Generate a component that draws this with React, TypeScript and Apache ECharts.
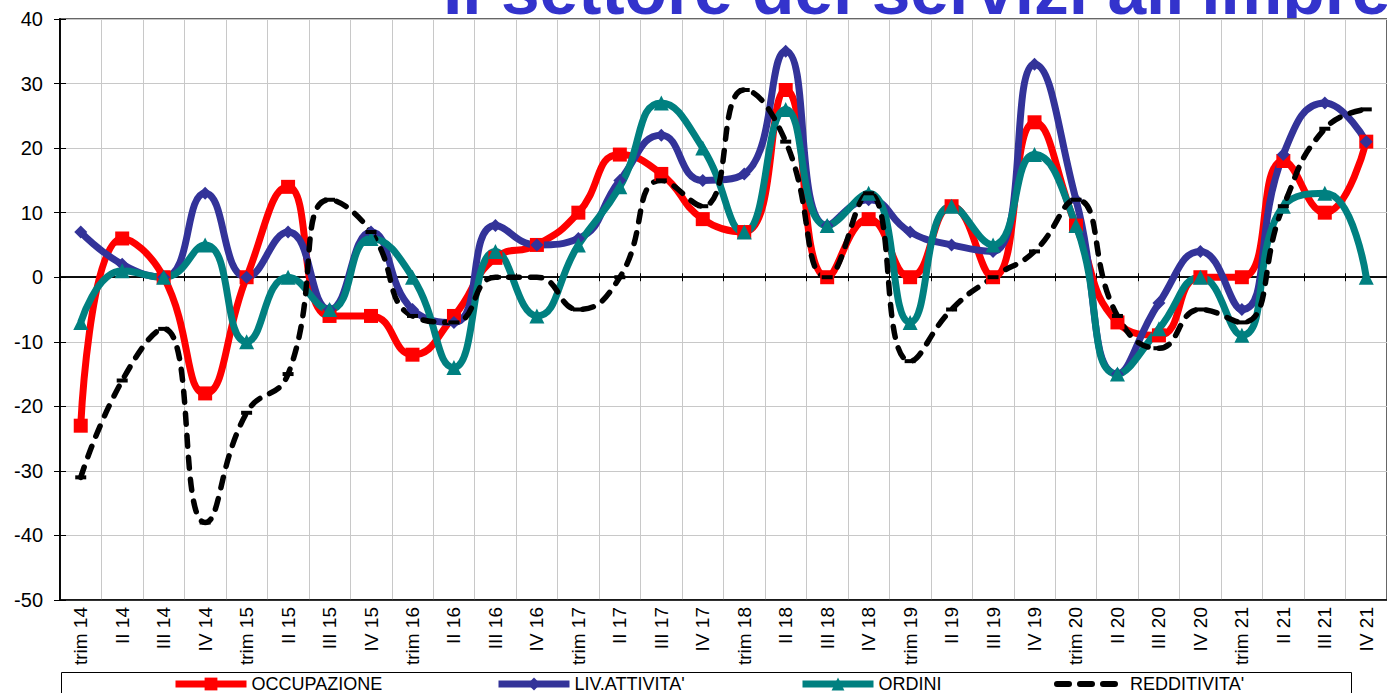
import React, { useEffect, useRef } from 'react';
import * as echarts from 'echarts';

const categories = [
  'trim 14', 'II 14', 'III 14', 'IV 14',
  'trim 15', 'II 15', 'III 15', 'IV 15',
  'trim 16', 'II 16', 'III 16', 'IV 16',
  'trim 17', 'II 17', 'III 17', 'IV 17',
  'trim 18', 'II 18', 'III 18', 'IV 18',
  'trim 19', 'II 19', 'III 19', 'IV 19',
  'trim 20', 'II 20', 'III 20', 'IV 20',
  'trim 21', 'II 21', 'III 21', 'IV 21',
];

const occupazione = [-23, 6, 0, -18, 0, 14, -6, -6, -12, -6, 3, 5, 10, 19, 16, 9, 7, 29, 0, 9, 0, 11, 0, 24, 8, -7, -9, 0, 0, 18, 10, 21];
const livAttivita = [7, 2, 0, 13, 0, 7, -5, 7, -5, -7, 8, 5, 6, 15, 22, 15, 16, 35, 8, 12, 7, 5, 4, 33, 12, -15, -4, 4, -5, 19, 27, 21];
const ordini = [-7, 1, 0, 5, -10, 0, -5, 6, 0, -14, 4, -6, 5, 14, 27, 20, 7, 26, 8, 13, -7, 11, 5, 19, 8, -15, -8, 0, -9, 11, 13, 0];
const redditivita = [-31, -16, -8, -38, -21, -15, 12, 7, -6, -7, 0, 0, -5, 0, 15, 11, 29, 21, 0, 13, -13, -5, 0, 4, 12, -6, -11, -5, -7, 11, 23, 26];

const seriesNames = ['OCCUPAZIONE', "LIV.ATTIVITA'", 'ORDINI', "REDDITIVITA'"];
const titleText = "Il settore dei servizi all'impresa";

const FONT = "'Liberation Sans', Arial, sans-serif";

// three rounded dashes for the dashed-line legend key
const dashIcon =
  'path://M3,0H15A3,3 0 0 1 15,6H3A3,3 0 0 1 3,0Z' +
  'M26,0H38A3,3 0 0 1 38,6H26A3,3 0 0 1 26,0Z' +
  'M49,0H61A3,3 0 0 1 61,6H49A3,3 0 0 1 49,0Z';

export default function App() {
  const ref = useRef<HTMLDivElement>(null);

  useEffect(() => {
    const chart = echarts.init(ref.current!, null, { renderer: 'svg' });
    const gridRect = { left: 60, top: 19, right: -10, bottom: 93 };
    const legendBase = {
      top: 675,
      padding: 0,
      itemWidth: 71,
      itemHeight: 16,
      itemGap: 0,
      lineStyle: { width: 7 },
      textStyle: { fontSize: 18, color: '#000', fontFamily: FONT },
    };
    const smooth = 0.5;
    chart.setOption({
      animation: false,
      title: {
        text: titleText,
        left: 443,
        top: -45,
        padding: 0,
        z: 0,
        textStyle: { fontSize: 69.5, fontWeight: 'bold', color: '#3333CC', fontFamily: FONT },
      },
      grid: [
        { ...gridRect, show: true, backgroundColor: '#fff', borderColor: '#666', borderWidth: 2, z: 1 },
        { ...gridRect, show: false },
      ],
      xAxis: [
        {
          type: 'category', data: categories, gridIndex: 0, position: 'bottom', boundaryGap: true, z: 2,
          axisLine: { onZero: false, lineStyle: { color: '#000', width: 1.5 } },
          axisTick: { show: false },
          axisLabel: { rotate: 90, fontSize: 19, color: '#000', fontFamily: FONT, margin: 7, interval: 0 },
          splitLine: { show: true, interval: 0, lineStyle: { color: '#c8c8c8', width: 1 } },
        },
        {
          type: 'category', data: categories, gridIndex: 0, position: 'top', boundaryGap: true, z: 3,
          axisLine: { onZero: true, lineStyle: { color: '#000', width: 1.5 } },
          axisTick: { show: true, length: 4, interval: 0, lineStyle: { color: '#000' } },
          axisLabel: { show: false },
          splitLine: { show: false },
        },
        {
          type: 'category', data: categories, gridIndex: 1, position: 'bottom', boundaryGap: true, z: 3,
          axisLine: { onZero: true, lineStyle: { color: '#000', width: 1.5 } },
          axisTick: { show: true, length: 4, interval: 0, lineStyle: { color: '#000' } },
          axisLabel: { show: false },
          splitLine: { show: false },
        },
      ],
      yAxis: [
        {
          type: 'value', gridIndex: 0, min: -50, max: 40, interval: 10, position: 'left', z: 2,
          axisLine: { show: true, onZero: false, lineStyle: { color: '#000', width: 1.5 } },
          axisTick: { show: true, length: 6, lineStyle: { color: '#000' } },
          axisLabel: { fontSize: 20, color: '#000', margin: 17, fontFamily: FONT },
          splitLine: { show: true, lineStyle: { color: '#c8c8c8', width: 1 } },
        },
        {
          type: 'value', gridIndex: 1, min: -50, max: 40, interval: 10, position: 'left', z: 3,
          axisLine: { show: true, onZero: false, lineStyle: { color: '#000', width: 1.5 } },
          axisTick: { show: true, inside: true, length: 6, lineStyle: { color: '#000' } },
          axisLabel: { show: false },
          splitLine: { show: false },
        },
      ],
      legend: [
        { ...legendBase, left: 172, data: [seriesNames[0]] },
        { ...legendBase, left: 495, data: [seriesNames[1]] },
        { ...legendBase, left: 799, data: [seriesNames[2]] },
        {
          ...legendBase, left: 1054, itemWidth: 64, itemHeight: 6,
          textStyle: { ...legendBase.textStyle, padding: [0, 0, 0, 7] },
          data: [{ name: seriesNames[3], icon: dashIcon, itemStyle: { color: '#000', borderWidth: 0 } }],
        },
      ],
      graphic: [
        {
          type: 'rect', z: 10,
          shape: { x: 61.5, y: 672.5, width: 1290, height: 40 },
          style: { fill: 'none', stroke: '#000', lineWidth: 1 },
        },
      ],
      series: [
        {
          name: seriesNames[0], type: 'line', data: occupazione, smooth, z: 3,
          symbol: 'rect', symbolSize: 14, showAllSymbol: true,
          lineStyle: { color: '#FF0000', width: 7 },
          itemStyle: { color: '#FF0000' },
        },
        {
          name: seriesNames[1], type: 'line', data: livAttivita, smooth, z: 3,
          symbol: 'diamond', symbolSize: 13, showAllSymbol: true,
          lineStyle: { color: '#333399', width: 7 },
          itemStyle: { color: '#333399' },
        },
        {
          name: seriesNames[2], type: 'line', data: ordini, smooth, z: 3,
          symbol: 'triangle', symbolSize: 15, showAllSymbol: true,
          lineStyle: { color: '#008080', width: 7 },
          itemStyle: { color: '#008080' },
        },
        {
          name: seriesNames[3], type: 'line', data: redditivita, smooth, z: 3,
          symbol: 'rect', symbolSize: [11, 4], showAllSymbol: true,
          lineStyle: { color: '#000', width: 5.5, type: [11, 11], cap: 'round' },
          itemStyle: { color: '#000' },
        },
      ],
    });
    return () => chart.dispose();
  }, []);

  return <div ref={ref} style={{ position: 'absolute', left: 0, top: 0, width: 1387, height: 693 }} />;
}
